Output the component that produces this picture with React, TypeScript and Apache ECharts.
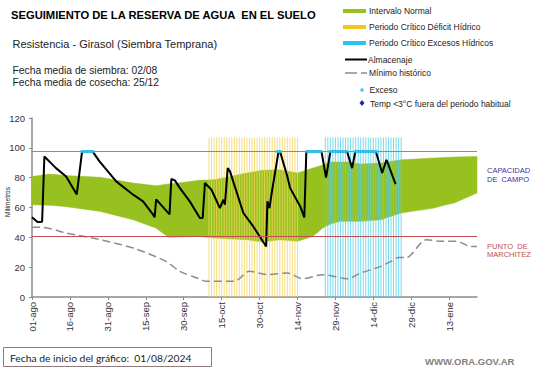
import React, { useEffect, useRef } from "react";
import * as echarts from "echarts";

// ---- axis ticks (days since 01-ago-2024) ----
const tickDays = [0, 15, 30, 45, 60, 75, 90, 105, 120, 135, 150, 165];
const tickLabels = ["01-ago", "16-ago", "31-ago", "15-sep", "30-sep", "15-oct", "30-oct", "14-nov", "29-nov", "14-dic", "29-dic", "13-ene"];

// ---- Intervalo Normal band ----
const bandDays = [0, 7, 13, 27, 40, 49, 54, 58, 66, 72, 85, 91, 98, 105, 111, 115, 118, 122, 125, 130, 138, 146, 159, 163, 167, 176];
const bandLow = [61.8, 61.5, 60.7, 57.4, 51.8, 46.2, 40.0, 40.2, 40.6, 39.5, 38.4, 36.9, 38.4, 37.3, 40.6, 46.2, 49.0, 50.7, 50.7, 50.7, 51.8, 56.3, 59.6, 61.5, 63.0, 69.7];
const bandHigh = [80.8, 82.4, 81.5, 80.2, 76.4, 74.6, 75.8, 76.4, 78.2, 78.6, 83.1, 84.9, 85.3, 83.1, 86.4, 88.5, 90.5, 90.5, 90.5, 89.1, 89.8, 92.0, 93.2, 93.6, 93.8, 94.2];

// ---- Mínimo histórico ----
const minDays = [0, 4, 13.5, 27, 40, 53, 58.5, 66, 69, 80, 86, 93, 101, 107, 115, 125, 130, 138, 142, 145, 148, 156, 162, 168, 173.5, 176];
const minValues = [46.7, 46.7, 42.9, 38.4, 32.8, 23.9, 17.2, 12.3, 10.5, 10.5, 17.2, 15.0, 16.1, 12.3, 15.0, 12.3, 16.1, 20.5, 23.9, 26.5, 26.5, 38.4, 37.3, 37.3, 33.9, 33.9];

// ---- Almacenaje ----
const storeDays = [0, 2.2, 4.0, 4.9, 9.5, 13.5, 17.7, 19.8, 24, 26.7, 33.3, 40, 43.9, 47.9, 48.5, 49.1, 54.4, 55.1, 56.5, 58.5, 62.4, 66.4, 67.5, 68.4, 71, 74.3, 75.7, 76.3, 77.4, 78.3, 83.6, 87.5, 90.9, 92.6, 93.1, 93.9, 94.8, 97.5, 98.1, 100.8, 102.1, 106.1, 107.7, 108.5, 114.5, 116.3, 118, 124.6, 126.6, 127.9, 136, 138.5, 140.2, 143.8];
const storeValues = [53.4, 50.3, 50.5, 94.2, 86.4, 80.8, 68.8, 97.5, 97.5, 90.9, 77.5, 68.6, 64.1, 55.2, 53.4, 65.4, 55.4, 79.1, 78.2, 73.0, 64.1, 53.0, 53.0, 76.4, 71.9, 59.6, 65.2, 61.9, 86.4, 84.2, 56.3, 47.3, 38.4, 33.9, 64.1, 59.6, 69.7, 97.5, 97.5, 82.0, 73.0, 60.7, 53.4, 97.5, 97.5, 80.0, 97.5, 97.5, 86.4, 97.5, 97.5, 83.1, 92.0, 75.7];

// ---- Exceso (days at field capacity) ----
const excessDays = [20, 21, 22, 23, 24, 97, 98, 109, 110, 111, 112, 113, 114, 118, 119, 120, 121, 122, 123, 124, 128, 129, 130, 131, 132, 133, 134, 135, 136];

// ---- critical periods (daily lines) ----
const deficitDays = [70, 71, 72, 73, 74, 75, 76, 77, 78, 79, 80, 81, 82, 83, 84, 85, 86, 87, 88, 89, 90, 91, 92, 93, 94, 95, 96, 97, 98, 99, 100, 101, 102, 103, 104, 105];
const excessPeriodDays = [116, 117, 118, 119, 120, 121, 122, 123, 124, 125, 126, 127, 128, 129, 130, 131, 132, 133, 134, 135, 136, 137, 138, 139, 140, 141, 142, 143, 144, 145, 146];
const periodTop = 107;

const capacity = 97.5;
const wilting = 41;

const GREEN = "#97c11f";
const YELLOW = "#f3d55c";
const CYAN = "#55cfe9";
const FONT = "'Liberation Sans', Arial, sans-serif";

export default function App() {
  const ref = useRef<HTMLDivElement>(null);

  useEffect(() => {
    if (!ref.current) return;
    const chart = echarts.init(ref.current, undefined, { renderer: "svg" });

    const periodData = [
      ...deficitDays.map((d) => ({ value: [d, periodTop], itemStyle: { color: YELLOW } })),
      ...excessPeriodDays.map((d) => ({ value: [d, periodTop], itemStyle: { color: CYAN } })),
    ];

    const legendText = (x: number, y: number, text: string) => ({
      type: "text",
      x,
      y,
      style: { text, fontSize: 8.5, fontFamily: FONT, fill: "#222", verticalAlign: "middle", align: "left" },
    });

    const option: any = {
      animation: false,
      backgroundColor: "#fff",
      grid: { left: 32, right: 64, top: 118, bottom: 71, containLabel: false },
      xAxis: {
        type: "value",
        min: 0,
        max: 176,
        splitLine: { show: false },
        axisLine: { show: true, lineStyle: { color: "#8a8a8a", width: 1.5 } },
        axisTick: { show: true, length: 3, customValues: tickDays, lineStyle: { color: "#8a8a8a" } },
        axisLabel: {
          customValues: tickDays,
          rotate: 90,
          margin: 5,
          fontSize: 9.5,
          fontFamily: FONT,
          color: "#333",
          formatter: (v: number) => {
            const i = tickDays.indexOf(Math.round(v));
            return i >= 0 ? tickLabels[i] : "";
          },
        },
      },
      yAxis: {
        type: "value",
        min: 0,
        max: 120,
        interval: 20,
        splitLine: { show: false },
        axisLine: { show: true, lineStyle: { color: "#8a8a8a", width: 1.5 } },
        axisTick: { show: true, length: 3, lineStyle: { color: "#8a8a8a" } },
        axisLabel: { fontSize: 9.5, fontFamily: FONT, color: "#333", margin: 7 },
      },
      series: [
        {
          name: "Intervalo Normal",
          type: "custom",
          data: bandDays.map((d, i) => [d, bandLow[i], bandHigh[i]]),
          encode: { x: 0, y: [1, 2] },
          renderItem: (params: any, api: any) => {
            if (params.dataIndex !== 0) return null;
            const pts: number[][] = [];
            for (let i = 0; i < bandDays.length; i++) pts.push(api.coord([bandDays[i], bandHigh[i]]));
            for (let i = bandDays.length - 1; i >= 0; i--) pts.push(api.coord([bandDays[i], bandLow[i]]));
            return { type: "polygon", shape: { points: pts }, style: { fill: GREEN, stroke: GREEN, lineWidth: 0.5 } };
          },
          z: 1,
        },
        {
          name: "Periodos Críticos",
          type: "bar",
          barWidth: 1,
          data: periodData,
          itemStyle: { opacity: 0.8 },
          z: 2,
        },
        {
          name: "Mínimo histórico",
          type: "line",
          data: minDays.map((d, i) => [d, minValues[i]]),
          symbol: "none",
          smooth: 0.3,
          lineStyle: { color: "#8c8c8c", width: 1.5, type: [8, 4] },
          markLine: {
            silent: true,
            symbol: "none",
            label: { show: false },
            data: [
              { yAxis: capacity, lineStyle: { color: "#6f8fc9", width: 1.2, type: "solid" } },
              { yAxis: wilting, lineStyle: { color: "#c0504d", width: 1.2, type: "solid" } },
            ],
          },
          z: 3,
        },
        {
          name: "Almacenaje",
          type: "line",
          data: storeDays.map((d, i) => [d, storeValues[i]]),
          symbol: "none",
          lineStyle: { color: "#000", width: 2 },
          z: 4,
        },
        {
          name: "Exceso",
          type: "scatter",
          data: excessDays.map((d) => [d, capacity]),
          symbol: "rect",
          symbolSize: [4, 3],
          itemStyle: { color: "#2fc4f0" },
          z: 5,
        },
      ],
      graphic: [
        { type: "text", x: 11, y: 15, style: { text: "SEGUIMIENTO DE LA RESERVA DE AGUA  EN EL SUELO", fontSize: 11.2, fontWeight: "bold", fontFamily: FONT, fill: "#000", verticalAlign: "middle" } },
        { type: "text", x: 12.5, y: 44, style: { text: "Resistencia - Girasol (Siembra Temprana)", fontSize: 11, fontFamily: FONT, fill: "#222", verticalAlign: "middle" } },
        { type: "text", x: 12.5, y: 70.2, style: { text: "Fecha media de siembra: 02/08", fontSize: 10.3, fontFamily: FONT, fill: "#222", verticalAlign: "middle" } },
        { type: "text", x: 12.5, y: 82, style: { text: "Fecha media de cosecha: 25/12", fontSize: 10.3, fontFamily: FONT, fill: "#222", verticalAlign: "middle" } },
        // legend
        { type: "rect", shape: { x: 343, y: 9, width: 23, height: 4 }, style: { fill: GREEN } },
        legendText(369, 11, "Intervalo Normal"),
        { type: "rect", shape: { x: 343, y: 25, width: 23, height: 4 }, style: { fill: "#f5c518" } },
        legendText(369, 27, "Periodo Crítico Déficit Hídrico"),
        { type: "rect", shape: { x: 343, y: 41, width: 23, height: 4 }, style: { fill: "#29c4ee" } },
        legendText(369, 43, "Periodo Crítico Excesos Hídricos"),
        { type: "line", shape: { x1: 345, y1: 59.5, x2: 367, y2: 59.5 }, style: { stroke: "#000", lineWidth: 2 } },
        legendText(368, 59.5, "Almacenaje"),
        { type: "line", shape: { x1: 345, y1: 73, x2: 357, y2: 73 }, style: { stroke: "#8c8c8c", lineWidth: 1.5 } },
        { type: "line", shape: { x1: 361, y1: 73, x2: 367, y2: 73 }, style: { stroke: "#8c8c8c", lineWidth: 1.5 } },
        legendText(369, 73, "Mínimo histórico"),
        { type: "rect", shape: { x: 360.5, y: 88.5, width: 3, height: 3 }, style: { fill: "#2fc4f0" } },
        legendText(369.5, 90, "Exceso"),
        { type: "polygon", shape: { points: [[362, 100], [364.5, 103], [362, 106], [359.5, 103]] }, style: { fill: "#1f2f9a" } },
        legendText(370, 103.5, "Temp <3°C fuera del periodo habitual"),
        // y axis name
        { type: "text", x: 7, y: 202, rotation: Math.PI / 2, style: { text: "Milímetros", fontSize: 6.5, fontFamily: FONT, fill: "#222", align: "center", verticalAlign: "middle" } },
        // right labels
        { type: "text", x: 487, y: 170, style: { text: "CAPACIDAD", fontSize: 7.5, fontFamily: FONT, fill: "#3535a5", verticalAlign: "middle" } },
        { type: "text", x: 487, y: 179.7, style: { text: "DE  CAMPO", fontSize: 7.5, fontFamily: FONT, fill: "#3535a5", verticalAlign: "middle" } },
        { type: "text", x: 487, y: 246.3, style: { text: "PUNTO  DE", fontSize: 7.5, fontFamily: FONT, fill: "#c0504d", verticalAlign: "middle" } },
        { type: "text", x: 487, y: 254.7, style: { text: "MARCHITEZ", fontSize: 7.5, fontFamily: FONT, fill: "#c0504d", verticalAlign: "middle" } },
        // bottom box
        { type: "rect", shape: { x: 3.5, y: 347.5, width: 208, height: 19 }, style: { fill: "#fff", stroke: "#8d7b7b", lineWidth: 1 } },
        { type: "text", x: 10, y: 358, style: { text: "Fecha de inicio del gráfico:  01/08/2024", fontSize: 10.3, fontFamily: "Lato, 'Open Sans', sans-serif", fill: "#222", verticalAlign: "middle" } },
        { type: "text", x: 425, y: 361.7, style: { text: "WWW.ORA.GOV.AR", fontSize: 9.5, fontWeight: "bold", fontFamily: FONT, fill: "#7f7f7f", verticalAlign: "middle" } },
      ],
    };

    chart.setOption(option);
    return () => chart.dispose();
  }, []);

  return <div ref={ref} style={{ position: "absolute", left: 0, top: 0, width: 541, height: 368, background: "#fff" }} />;
}
